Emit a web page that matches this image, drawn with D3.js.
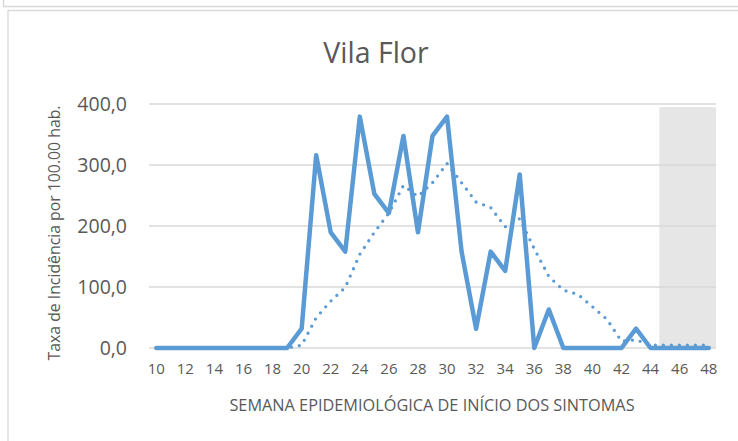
<!DOCTYPE html>
<html>
<head>
<meta charset="utf-8">
<script src="https://cdn.jsdelivr.net/npm/d3@7"></script>
<style>
  html, body { margin: 0; padding: 0; background: #fff; }
  svg { display: block; font-family: "Open Sans", sans-serif; }
</style>
</head>
<body>
<div id="chart"></div>
<script>
// Semana epidemiológica
const weeks = [10, 11, 12, 13, 14, 15, 16, 17, 18, 19, 20, 21, 22, 23, 24, 25, 26, 27, 28, 29,
  30, 31, 32, 33, 34, 35, 36, 37, 38, 39, 40, 41, 42, 43, 44, 45, 46, 47, 48];

// Taxa de incidência por 100.000 hab.
const incidence = [0, 0, 0, 0, 0, 0, 0, 0, 0, 0,
  31.6, 316.1, 189.6, 158.0, 379.3, 252.8, 221.2, 347.7, 189.6, 347.7,
  379.3, 158.0, 31.6, 158.0, 126.4, 284.5, 0, 63.2, 0, 0,
  0, 0, 0, 31.6, 0, 0, 0, 0, 0];

// Tendência (média móvel), semanas 16 a 48
const trendWeeks = [16, 17, 18, 19, 20, 21, 22, 23, 24, 25, 26, 27, 28, 29, 30, 31, 32,
  33, 34, 35, 36, 37, 38, 39, 40, 41, 42, 43, 44, 45, 46, 47, 48];
const trend = [0, 0, 0, 0, 4.5, 49.7, 76.8, 99.3, 153.5, 189.6, 221.2, 266.4, 248.4, 270.9,
  302.5, 270.9, 239.3, 230.3, 198.7, 212.2, 162.6, 117.4, 94.8, 88.0, 67.7, 47.0, 11.0,
  13.5, 4.5, 4.5, 4.5, 4.5, 4.5];

// Semanas sombreadas
const shadeWeeks = [45, 46, 47, 48];
const shadeValue = 395;

const yTicks = [0, 100, 200, 300, 400];
const xTickLabels = [10, 12, 14, 16, 18, 20, 22, 24, 26, 28, 30, 32, 34, 36, 38, 40, 42, 44, 46, 48];

const W = 738, H = 441;
const PLOT = { left: 149, right: 716, top: 104, bottom: 348 };
const BLUE = "#5B9BD5";
const INK = "#595959";
const GRID = "#D9D9D9";

const svg = d3.select("#chart").append("svg")
  .attr("width", W).attr("height", H);

// Frames
svg.append("path")
  .attr("d", `M3.5,0 V6.5 H${W}`)
  .attr("fill", "none").attr("stroke", GRID).attr("stroke-width", 1.5);
svg.append("path")
  .attr("d", `M8,${H} V10.5 H${W}`)
  .attr("fill", "none").attr("stroke", GRID).attr("stroke-width", 1.3);

const x = d3.scaleBand()
  .domain(weeks)
  .range([PLOT.left, PLOT.right])
  .padding(0);

const y = d3.scaleLinear()
  .domain([0, 400])
  .range([PLOT.bottom, PLOT.top]);

const cx = w => x(w) + x.bandwidth() / 2;

// Shaded weeks
const shadeX0 = d => x(d) + (d === shadeWeeks[0] ? 1.5 : 0);
const shadeX1 = d => Math.min(x(d) + x.bandwidth() + 0.5, PLOT.right);
svg.append("g")
  .selectAll("rect")
  .data(shadeWeeks)
  .join("rect")
  .attr("x", shadeX0)
  .attr("width", d => shadeX1(d) - shadeX0(d))
  .attr("y", y(shadeValue))
  .attr("height", y(0) - y(shadeValue))
  .attr("fill", "#E7E6E6");

// Gridlines
svg.append("g")
  .selectAll("line")
  .data(yTicks)
  .join("line")
  .attr("x1", PLOT.left).attr("x2", PLOT.right)
  .attr("y1", d => y(d)).attr("y2", d => y(d))
  .attr("stroke", GRID).attr("stroke-width", 1.3);

// Y axis
const locale = d3.formatLocale({ decimal: ",", thousands: ".", grouping: [3], currency: ["R$", ""] });
const yAxis = d3.axisLeft(y)
  .tickValues(yTicks)
  .tickFormat(locale.format(".1f"))
  .tickSize(0)
  .tickPadding(22);

const gy = svg.append("g")
  .attr("transform", `translate(${PLOT.left},0)`)
  .call(yAxis);
gy.select(".domain").remove();
gy.selectAll("text")
  .attr("fill", INK)
  .attr("font-size", 19.5)
  .attr("font-family", "Open Sans, sans-serif");

// X axis
const xAxis = d3.axisBottom(x)
  .tickValues(xTickLabels)
  .tickSize(0)
  .tickPadding(15);

const gx = svg.append("g")
  .attr("transform", `translate(0,${PLOT.bottom})`)
  .call(xAxis);
gx.select(".domain").remove();
gx.selectAll("text")
  .attr("fill", INK)
  .attr("font-size", 15)
  .attr("font-family", "Open Sans, sans-serif");

// Trend (dotted)
const trendLine = d3.line()
  .x((d, i) => cx(trendWeeks[i]))
  .y(d => y(d));

svg.append("path")
  .datum(trend)
  .attr("d", trendLine)
  .attr("fill", "none")
  .attr("stroke", BLUE)
  .attr("stroke-width", 3.3)
  .attr("stroke-linecap", "round")
  .attr("stroke-dasharray", "0 8");

// Main series
const line = d3.line()
  .x((d, i) => cx(weeks[i]))
  .y(d => y(d));

svg.append("path")
  .datum(incidence)
  .attr("d", line)
  .attr("fill", "none")
  .attr("stroke", BLUE)
  .attr("stroke-width", 4.5)
  .attr("stroke-linejoin", "round")
  .attr("stroke-linecap", "round");

// Title
svg.append("text")
  .attr("x", 376).attr("y", 63)
  .attr("text-anchor", "middle")
  .attr("fill", INK)
  .attr("font-size", 28.5)
  .text("Vila Flor");

// Axis titles
svg.append("text")
  .attr("x", 432).attr("y", 411)
  .attr("text-anchor", "middle")
  .attr("fill", INK)
  .attr("font-size", 16.3)
  .text("SEMANA EPIDEMIOLÓGICA DE INÍCIO DOS SINTOMAS");

svg.append("text")
  .attr("transform", "translate(60,233) rotate(-90)")
  .attr("text-anchor", "middle")
  .attr("fill", INK)
  .attr("font-size", 15.8)
  .text("Taxa de Incidência por 100.00 hab.");
</script>
</body>
</html>
